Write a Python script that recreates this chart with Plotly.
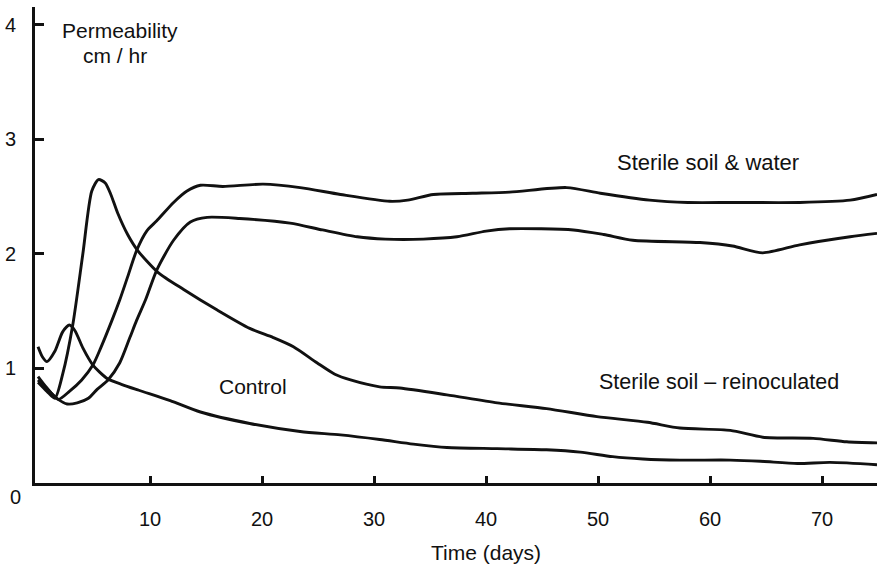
import plotly.graph_objects as go

# ---- data (days, permeability cm/hr) ----
control_x = [0, 0.4, 0.8, 1.5, 2.2, 2.8, 3.3, 4.0, 4.9, 6.2, 7.5, 9.0, 11.8, 14.5,
             18.9, 23.4, 27.0, 30.5, 33.5, 36.5, 41.0, 45.4, 48.4, 51.3, 54.0,
             57.3, 61.8, 64.5, 67.8, 70.7, 74.9]
control_y = [1.19, 1.10, 1.06, 1.15, 1.32, 1.38, 1.33, 1.18, 1.03, 0.91, 0.86, 0.81,
             0.72, 0.62, 0.52, 0.45, 0.42, 0.38, 0.34, 0.31, 0.30, 0.29, 0.27, 0.23,
             0.21, 0.20, 0.20, 0.19, 0.17, 0.18, 0.16]

reinoc_x = [0, 0.8, 1.5, 2.2, 3.1, 4.0, 4.8, 5.4, 6.0, 6.5, 7.1, 8.0, 8.9, 10.7, 13.0,
            16.0, 18.9, 21.0, 22.8, 24.9, 26.5, 27.9, 30.5, 32.3, 36.5, 41.0, 45.4,
            49.9, 54.4, 57.3, 61.8, 64.7, 69.2, 72.2, 74.9]
reinoc_y = [0.88, 0.80, 0.74, 0.95, 1.38, 2.00, 2.55, 2.65, 2.62, 2.52, 2.36, 2.17,
            2.03, 1.84, 1.69, 1.51, 1.35, 1.27, 1.19, 1.05, 0.95, 0.90, 0.84, 0.83,
            0.77, 0.70, 0.65, 0.58, 0.53, 0.48, 0.46, 0.40, 0.39, 0.36, 0.35]

water1_x = [0, 0.8, 1.8, 2.8, 3.9, 4.9, 5.6, 6.6, 7.3, 8.0, 8.8, 9.7, 10.6, 12.1, 13.3,
            14.5, 16.5, 20.1, 23.4, 27.0, 31.4, 33.0, 35.3, 38.8, 42.1, 47.2, 50.2,
            54.6, 58.0, 62.1, 68.0, 72.5, 74.9]
water1_y = [0.93, 0.83, 0.73, 0.80, 0.90, 1.03, 1.18, 1.42, 1.60, 1.80, 2.03, 2.20,
            2.29, 2.45, 2.55, 2.60, 2.59, 2.61, 2.58, 2.52, 2.46, 2.47, 2.52, 2.53,
            2.54, 2.58, 2.53, 2.47, 2.45, 2.45, 2.45, 2.47, 2.52]

water2_x = [0, 0.8, 1.8, 2.6, 3.5, 4.5, 5.3, 6.25, 7.3, 8.2, 8.8, 9.6, 10.6, 12.1, 13.6,
            15.1, 18.0, 22.5, 25.4, 28.5, 31.0, 34.4, 37.4, 40.0, 42.1, 47.8, 50.5,
            53.1, 59.1, 62.0, 64.7, 68.0, 72.5, 74.9]
water2_y = [0.90, 0.82, 0.73, 0.69, 0.70, 0.74, 0.82, 0.90, 1.05, 1.27, 1.42, 1.60,
            1.86, 2.12, 2.28, 2.32, 2.31, 2.27, 2.21, 2.15, 2.13, 2.13, 2.15, 2.20,
            2.22, 2.21, 2.17, 2.12, 2.10, 2.07, 2.01, 2.08, 2.15, 2.18]

x_ticks = [10, 20, 30, 40, 50, 60, 70]
y_ticks = [1, 2, 3, 4]

INK = "#111111"
FONT = "Liberation Sans, Arial, sans-serif"

fig = go.Figure()
for xs, ys in [(control_x, control_y), (reinoc_x, reinoc_y),
               (water1_x, water1_y), (water2_x, water2_y)]:
    fig.add_trace(go.Scatter(x=xs, y=ys, mode="lines",
                             line=dict(color=INK, width=2.9, shape="spline", smoothing=0.7),
                             showlegend=False, hoverinfo="skip"))

labels = [
    dict(x=7.3, y=3.95, text="Permeability", size=21),
    dict(x=6.9, y=3.73, text="cm / hr", size=21),
    dict(x=59.8, y=2.80, text="Sterile soil & water", size=22),
    dict(x=60.8, y=0.88, text="Sterile soil – reinoculated", size=21.5),
    dict(x=19.2, y=0.84, text="Control", size=21),
]
for a in labels:
    fig.add_annotation(x=a["x"], y=a["y"], text=a["text"], showarrow=False,
                       xanchor="center", yanchor="middle",
                       font=dict(family=FONT, size=a["size"], color=INK))

# y "0" label sits a little below the axis in the reference
fig.add_annotation(x=0, y=0, xref="paper", yref="y", text="0", showarrow=False,
                   xanchor="center", yanchor="middle", xshift=-20, yshift=-14,
                   font=dict(family=FONT, size=20, color=INK))

# x-axis title placed as in the reference
fig.add_annotation(x=40, y=0, xref="x", yref="y", text="Time (days)", showarrow=False,
                   xanchor="center", yanchor="middle", yshift=-69,
                   font=dict(family=FONT, size=21, color=INK))

fig.update_layout(
    width=877, height=566,
    margin=dict(l=35, r=0, t=7, b=83, autoexpand=False),
    paper_bgcolor="white", plot_bgcolor="white",
    font=dict(family=FONT, size=20, color=INK),
    xaxis=dict(range=[-0.27, 74.9], tickvals=x_ticks, ticktext=[str(v) for v in x_ticks],
               ticks="inside", ticklen=7, tickwidth=2.5, tickcolor=INK,
               showline=True, linecolor=INK, linewidth=3, showgrid=False, zeroline=False,
               ticklabelstandoff=16, automargin=False),
    yaxis=dict(range=[0, 4.157], tickvals=y_ticks, ticktext=[str(v) for v in y_ticks],
               ticks="inside", ticklen=9, tickwidth=2.5, tickcolor=INK,
               showline=True, linecolor=INK, linewidth=3, showgrid=False, zeroline=False,
               ticklabelstandoff=12, automargin=False),
)

fig.write_html("out.html", config={"displayModeBar": False},
               post_script="document.body.style.margin='0px';document.body.style.overflow='hidden';")
